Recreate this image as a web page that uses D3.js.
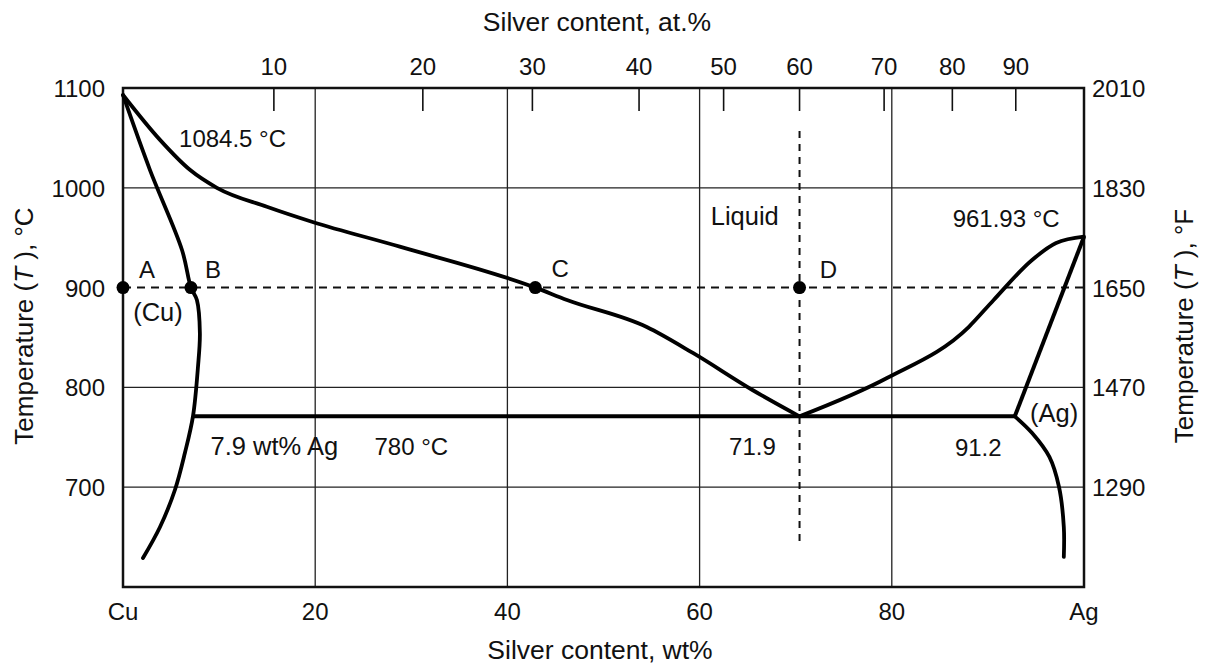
<!DOCTYPE html>
<html>
<head>
<meta charset="utf-8">
<script src="https://cdn.jsdelivr.net/npm/d3@7"></script>
<style>
  body { margin: 0; background: #fff; }
  svg text { font-family: "Liberation Sans", Arial, Helvetica, sans-serif; fill: #111; }
</style>
</head>
<body>
<div id="chart"></div>
<script>
// ---- data (wt% Ag, temperature in degC) ----
var wtTicks = [0, 20, 40, 60, 80, 100];
var wtTickLabels = ["Cu", "20", "40", "60", "80", "Ag"];
var tempTicks = [700, 800, 900, 1000, 1100];
var fahrTicks = [1290, 1470, 1650, 1830, 2010];
var atTickLabels = ["10", "20", "30", "40", "50", "60", "70", "80", "90"];
var atTickWt = [15.7, 31.2, 42.6, 53.7, 62.5, 70.4, 79.2, 86.3, 92.9];
var gridWt = [20, 40, 60, 80];
var gridTemp = [700, 800, 1000];

var eutecticT = 771;

// left liquidus: Cu melting point down to the eutectic point
var liquidusLeft = [
  [0, 1093], [3.85, 1048], [6.96, 1018], [9.77, 1000], [14.97, 981],
  [19.65, 966], [28.8, 941], [42.9, 900], [46.2, 887.6], [54.5, 860.5],
  [59.3, 834.5], [65.5, 797.4], [70.4, 771]
];
// right liquidus: eutectic point up to Ag melting point
var liquidusRight = [
  [70.4, 771], [79.5, 809.4], [88.0, 860.5], [90.6, 887.6],
  [94.6, 927.7], [97.1, 944.7], [100, 951]
];
// (Cu) solidus + solvus
var solidusLeft = [
  [0, 1093], [2.8, 1018], [6.14, 937.7], [7.07, 900], [7.69, 887.6],
  [8.0, 854.5], [7.8, 820.4], [7.28, 771], [6.44, 734.3], [5.4, 697.2],
  [3.85, 660.1], [2.08, 629]
];
// (Ag) solidus
var solidusRight = [[100, 951], [92.8, 771]];
// (Ag) solvus
var solvusRight = [
  [92.8, 771], [94.6, 754.3], [96.4, 730.3], [97.4, 700.2],
  [97.9, 660.1], [97.9, 630.1]
];
var eutectic = [[7.28, eutecticT], [92.8, eutecticT]];
var isotherm = [[0, 900], [100, 900]];
var lineD = [[70.4, 1057], [70.4, 642]];

var points = [
  { name: "A", wt: 0, t: 900 },
  { name: "B", wt: 7.07, t: 900 },
  { name: "C", wt: 42.9, t: 900 },
  { name: "D", wt: 70.4, t: 900 }
];

var labels = [
  { text: "1084.5 °C", wt: 11.4, t: 1041 },
  { text: "Liquid", wt: 64.7, t: 962.7 },
  { text: "961.93 °C", wt: 91.9, t: 960.7 },
  { text: "A", wt: 2.5, t: 909.6 },
  { text: "B", wt: 9.36, t: 909.6 },
  { text: "C", wt: 45.5, t: 910.6 },
  { text: "D", wt: 73.4, t: 909.6 },
  { text: "(Cu)", wt: 3.64, t: 866.5 },
  { text: "7.9 wt% Ag", wt: 15.75, t: 732.3 },
  { text: "780 °C", wt: 30.0, t: 732.3 },
  { text: "71.9", wt: 65.5, t: 732.3 },
  { text: "91.2", wt: 89.0, t: 731.3 },
  { text: "(Ag)", wt: 96.9, t: 765.3 }
];

// ---- layout ----
var width = 1206, height = 668;
var plotLeft = 123, plotRight = 1084, plotTop = 88, plotBottom = 587;

var svg = d3.select("#chart").append("svg")
  .attr("width", width)
  .attr("height", height);

var x = d3.scaleLinear().domain([0, 100]).range([plotLeft, plotRight]);
var y = d3.scaleLinear().domain([600, 1100]).range([plotBottom, plotTop]);
var yF = d3.scaleLinear().domain([1110, 2010]).range([plotBottom, plotTop]);

var line = d3.line().x(d => x(d[0])).y(d => y(d[1]));
var smooth = d3.line().x(d => x(d[0])).y(d => y(d[1])).curve(d3.curveCatmullRom.alpha(0.5));
var monotone = d3.line().x(d => x(d[0])).y(d => y(d[1])).curve(d3.curveMonotoneX);

// grid
svg.selectAll(".vgrid").data(gridWt).enter().append("line")
  .attr("class", "vgrid")
  .attr("x1", d => x(d)).attr("x2", d => x(d))
  .attr("y1", plotTop).attr("y2", plotBottom)
  .attr("stroke", "#222").attr("stroke-width", 1.3);

svg.selectAll(".hgrid").data(gridTemp).enter().append("line")
  .attr("class", "hgrid")
  .attr("x1", plotLeft).attr("x2", plotRight)
  .attr("y1", d => y(d)).attr("y2", d => y(d))
  .attr("stroke", "#222").attr("stroke-width", 1.3);

// dashed construction lines
svg.append("path").datum(isotherm)
  .attr("d", line).attr("fill", "none")
  .attr("stroke", "#111").attr("stroke-width", 2)
  .attr("stroke-dasharray", "8,6");

svg.append("path").datum(lineD)
  .attr("d", line).attr("fill", "none")
  .attr("stroke", "#111").attr("stroke-width", 2)
  .attr("stroke-dasharray", "7,6");

// frame
svg.append("rect")
  .attr("x", plotLeft).attr("y", plotTop)
  .attr("width", plotRight - plotLeft).attr("height", plotBottom - plotTop)
  .attr("fill", "none").attr("stroke", "#111").attr("stroke-width", 2.5);

// top at.% ticks (inside)
svg.selectAll(".attick").data(atTickWt).enter().append("line")
  .attr("class", "attick")
  .attr("x1", d => x(d)).attr("x2", d => x(d))
  .attr("y1", plotTop).attr("y2", plotTop + 23)
  .attr("stroke", "#111").attr("stroke-width", 1.6);

svg.selectAll(".atlabel").data(atTickWt).enter().append("text")
  .attr("class", "atlabel")
  .attr("x", d => x(d)).attr("y", 75)
  .attr("text-anchor", "middle")
  .attr("font-size", 24)
  .text((d, i) => atTickLabels[i]);

// phase boundaries
[liquidusLeft, liquidusRight].forEach(function (pts) {
  svg.append("path").datum(pts)
    .attr("d", monotone).attr("fill", "none")
    .attr("stroke", "#000").attr("stroke-width", 3.8)
    .attr("stroke-linejoin", "round").attr("stroke-linecap", "round");
});
[solidusLeft, solvusRight].forEach(function (pts) {
  svg.append("path").datum(pts)
    .attr("d", smooth).attr("fill", "none")
    .attr("stroke", "#000").attr("stroke-width", 3.8)
    .attr("stroke-linejoin", "round").attr("stroke-linecap", "round");
});
[solidusRight, eutectic].forEach(function (pts) {
  svg.append("path").datum(pts)
    .attr("d", line).attr("fill", "none")
    .attr("stroke", "#000").attr("stroke-width", 4)
    .attr("stroke-linejoin", "round");
});

// points A-D
svg.selectAll(".pt").data(points).enter().append("circle")
  .attr("class", "pt")
  .attr("cx", d => x(d.wt)).attr("cy", d => y(d.t))
  .attr("r", 6.5).attr("fill", "#000");

// annotations
svg.selectAll(".ann").data(labels).enter().append("text")
  .attr("class", "ann")
  .attr("x", d => x(d.wt)).attr("y", d => y(d.t))
  .attr("text-anchor", "middle")
  .attr("font-size", d => /[a-z]/.test(d.text) ? 25.5 : 24)
  .text(d => d.text);

// bottom axis labels
svg.selectAll(".wtlabel").data(wtTicks).enter().append("text")
  .attr("class", "wtlabel")
  .attr("x", d => x(d)).attr("y", 620)
  .attr("text-anchor", "middle")
  .attr("font-size", 24)
  .text((d, i) => wtTickLabels[i]);

// left degC labels
svg.selectAll(".clabel").data(tempTicks).enter().append("text")
  .attr("class", "clabel")
  .attr("x", 105).attr("y", d => y(d) + 9)
  .attr("text-anchor", "end")
  .attr("font-size", 24)
  .text(d => d);

// right degF labels
svg.selectAll(".flabel").data(fahrTicks).enter().append("text")
  .attr("class", "flabel")
  .attr("x", 1092).attr("y", d => yF(d) + 9)
  .attr("text-anchor", "start")
  .attr("font-size", 24)
  .text(d => d);

// axis titles
svg.append("text")
  .attr("x", 597).attr("y", 31)
  .attr("text-anchor", "middle").attr("font-size", 26.5)
  .text("Silver content, at.%");

svg.append("text")
  .attr("x", 600).attr("y", 659)
  .attr("text-anchor", "middle").attr("font-size", 26.5)
  .text("Silver content, wt%");

function tempTitle(cx, cy, unit) {
  var t = svg.append("text")
    .attr("transform", "translate(" + cx + "," + cy + ") rotate(-90)")
    .attr("text-anchor", "middle").attr("font-size", 26);
  t.append("tspan").text("Temperature (");
  t.append("tspan").attr("font-style", "italic").text("T");
  t.append("tspan").text(" ), " + unit);
}
tempTitle(33, 326, "°C");
tempTitle(1193, 326, "°F");
</script>
</body>
</html>
